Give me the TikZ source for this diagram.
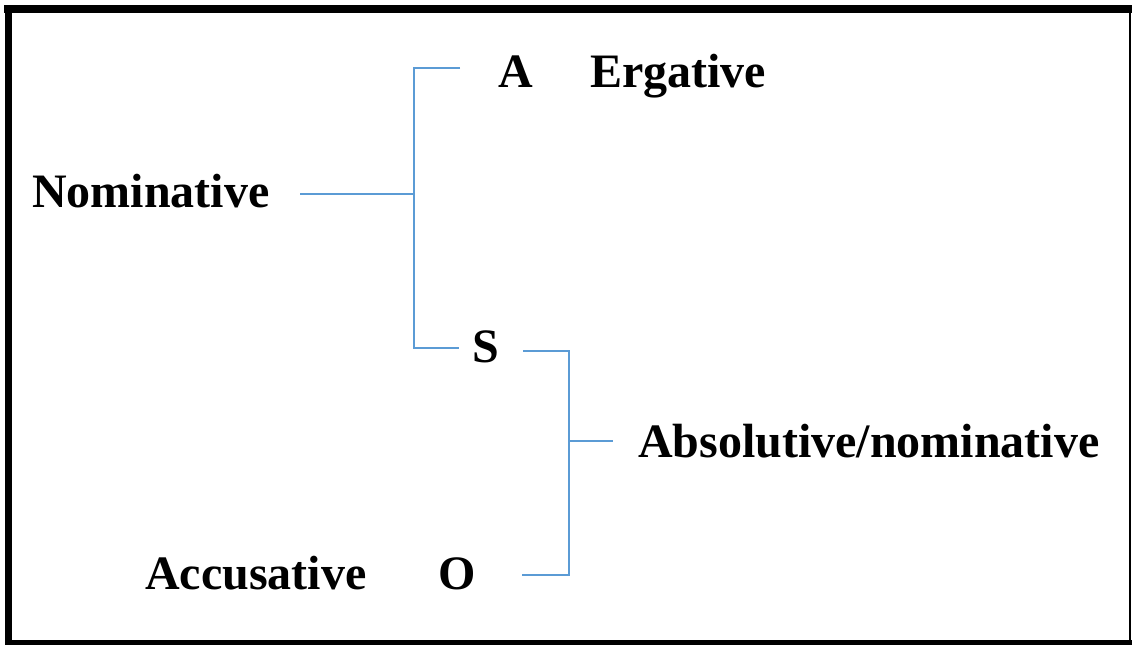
\documentclass[tikz,border=0pt]{standalone}
\usepackage{fontspec}
\setmainfont{Liberation Serif}
\definecolor{lineblue}{HTML}{5B9BD5}
\begin{document}
\begin{tikzpicture}[x=1pt,y=-1pt,
  lbl/.style={anchor=base west,inner sep=0pt,font=\fontsize{48}{56}\selectfont\bfseries},
  conn/.style={draw=lineblue,line width=2.5pt}]
\useasboundingbox (0,0) rectangle (1132,645);
\fill[white] (0,0) rectangle (1132,645);
% frame
\draw[line width=8pt] (4,9) -- (1132,9);
\draw[line width=7pt] (8.5,5) -- (8.5,645);
\draw[line width=2pt] (1130,5) -- (1130,645);
\draw[line width=5pt] (5,642.5) -- (1132,642.5);
% labels
\node[lbl] (nom) at (32,207) {Nominative};
\node[lbl] (A) at (498,87) {A};
\node[lbl] (erg) at (590,87) {Ergative};
\node[lbl] (S) at (472,362) {S};
\node[lbl] (abs) at (638,457) {Absolutive/nominative};
\node[lbl] (acc) at (145,589) {Accusative};
\node[lbl] (O) at (438,589) {O};
% coordinates
\coordinate (nomEnd) at (300,194);
\coordinate (b1) at (414,194);
\coordinate (b1top) at (414,68);
\coordinate (b1bot) at (414,348);
\coordinate (Aend) at (460,68);
\coordinate (Send) at (459,348);
\coordinate (Sr) at (523,351);
\coordinate (b2top) at (569,351);
\coordinate (b2mid) at (569,441);
\coordinate (b2bot) at (569,575);
\coordinate (Or) at (522,575);
\coordinate (absEnd) at (613,441);
% connectors
\draw[conn] (nomEnd) -- (b1);
\draw[conn] (Aend) -- (b1top) -- (b1bot) -- (Send);
\draw[conn] (Sr) -- (b2top) -- (b2bot) -- (Or);
\draw[conn] (b2mid) -- (absEnd);
\end{tikzpicture}
\end{document}
